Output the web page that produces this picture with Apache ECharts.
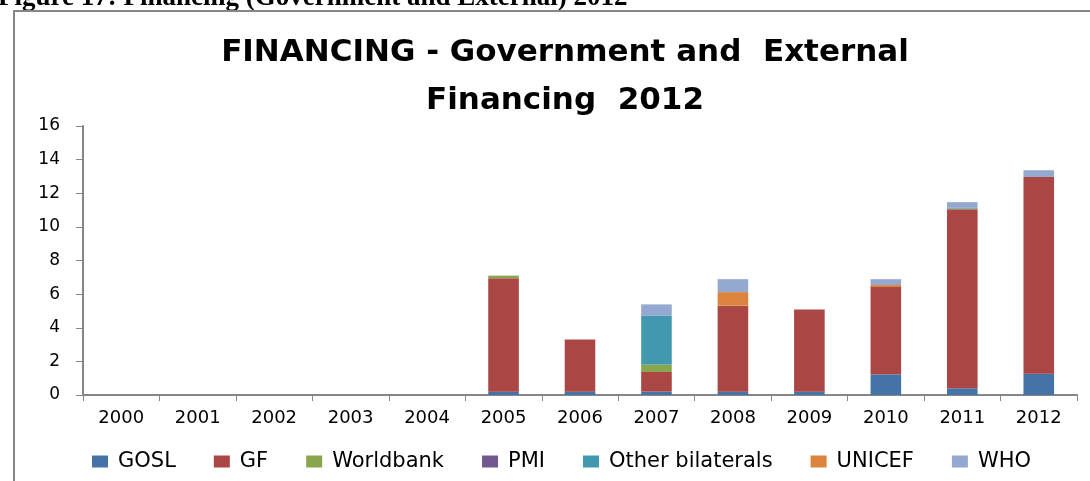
<!DOCTYPE html>
<html>
<head>
<meta charset="utf-8">
<script src="https://cdn.jsdelivr.net/npm/echarts@6/dist/echarts.min.js"></script>
<style>
  html, body { margin: 0; padding: 0; background: #fff; }
  #chart { width: 1090px; height: 481px; }
</style>
</head>
<body>
<div id="chart"></div>
<script>
// years on the x axis
var years = ['2000', '2001', '2002', '2003', '2004', '2005', '2006', '2007', '2008', '2009', '2010', '2011', '2012'];

// stacked series values
var gosl = [0, 0, 0, 0, 0, 0.2, 0.2, 0.2, 0.2, 0.2, 1.23, 0.4, 1.27];
var gf = [0, 0, 0, 0, 0, 6.75, 3.1, 1.17, 5.09, 4.89, 5.19, 10.65, 11.7];
var worldbank = [0, 0, 0, 0, 0, 0.15, 0, 0.45, 0.02, 0, 0, 0.04, 0];
var pmi = [0, 0, 0, 0, 0, 0, 0, 0, 0, 0, 0, 0, 0];
var otherBilaterals = [0, 0, 0, 0, 0, 0, 0, 2.89, 0, 0, 0, 0.04, 0];
var unicef = [0, 0, 0, 0, 0, 0, 0, 0, 0.81, 0, 0.12, 0, 0];
var who = [0, 0, 0, 0, 0, 0, 0, 0.68, 0.77, 0, 0.35, 0.34, 0.4];

var seriesNames = ['GOSL', 'GF', 'Worldbank', 'PMI', 'Other bilaterals', 'UNICEF', 'WHO'];
var seriesData = [gosl, gf, worldbank, pmi, otherBilaterals, unicef, who];
var colors = ['#4572A7', '#AA4643', '#89A54E', '#71588F', '#4198AF', '#DB843D', '#93A9CF'];

var font = 'DejaVu Sans';
var chart = echarts.init(document.getElementById('chart'));

var option = {
  color: colors,
  animation: false,
  title: {
    text: 'FINANCING - Government and  External\nFinancing  2012',
    left: 560,
    top: 24,
    textAlign: 'center',
    textStyle: {
      fontFamily: font,
      fontWeight: 'bold',
      fontSize: 31,
      lineHeight: 48,
      color: '#000'
    }
  },
  graphic: [
    {
      // figure caption, cut off at the top of the picture
      type: 'text',
      left: -2,
      top: -15,
      style: {
        text: 'Figure 17: Financing (Government and External) 2012',
        font: 'bold 27px "Liberation Serif"',
        fill: '#000'
      }
    },
    {
      type: 'rect',
      shape: { x: 14, y: 11, width: 1100, height: 500 },
      style: { fill: null, stroke: '#868686', lineWidth: 2 },
      silent: true
    }
  ],
  legend: {
    data: seriesNames,
    left: 87,
    top: 446,
    itemWidth: 16,
    itemHeight: 12,
    itemGap: 38,
    icon: 'rect',
    textStyle: {
      fontFamily: font,
      fontSize: 21,
      color: '#000',
      padding: [0, 0, 0, 5]
    }
  },
  grid: {
    left: 83,
    right: 13,
    top: 126,
    bottom: 86
  },
  xAxis: {
    type: 'category',
    data: years,
    axisLine: { lineStyle: { color: '#868686', width: 2 } },
    axisTick: { show: true, length: 6, lineStyle: { color: '#868686', width: 1 } },
    axisLabel: {
      margin: 14,
      fontFamily: font,
      fontSize: 18,
      color: '#000'
    }
  },
  yAxis: {
    type: 'value',
    min: 0,
    max: 16,
    interval: 2,
    splitLine: { show: false },
    axisLine: { show: true, lineStyle: { color: '#868686', width: 2 } },
    axisTick: { show: true, length: 7, lineStyle: { color: '#868686', width: 1 } },
    axisLabel: {
      margin: 23,
      fontFamily: font,
      fontSize: 17,
      color: '#000'
    }
  },
  series: seriesNames.map(function (name, i) {
    return {
      name: name,
      type: 'bar',
      stack: 'total',
      barWidth: '40%',
      data: seriesData[i]
    };
  })
};

chart.setOption(option);
</script>
</body>
</html>
